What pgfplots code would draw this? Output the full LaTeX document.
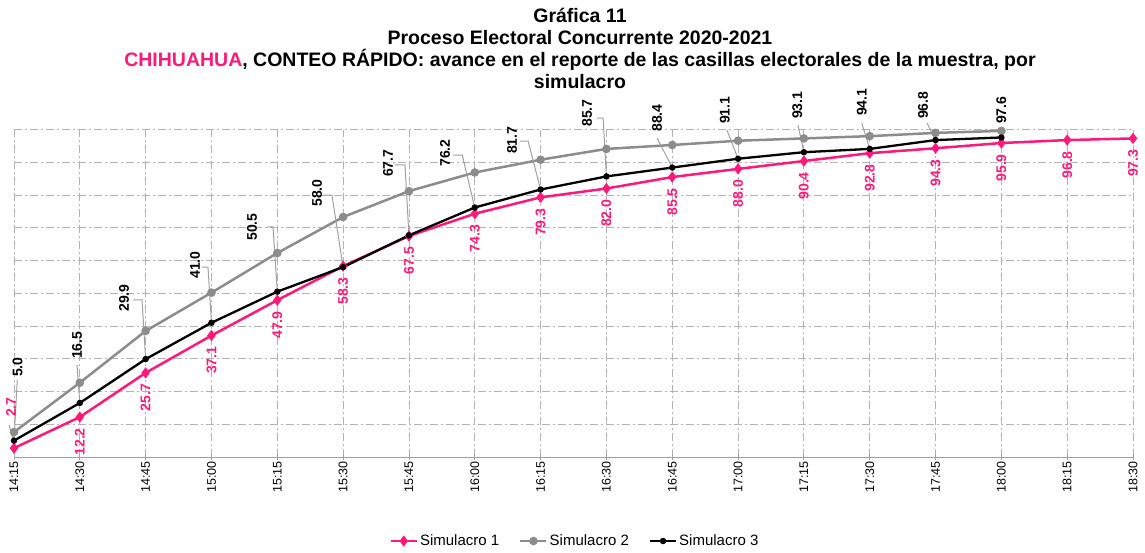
\documentclass[border=0pt]{standalone}
\usepackage{pgfplots}
\pgfplotsset{compat=1.18}
\usepackage{pgfplotstable}
\usepackage{fontspec}
\setmainfont{Liberation Sans}
\definecolor{simA}{RGB}{255,25,120}
\definecolor{simB}{RGB}{140,140,140}
\definecolor{gridc}{RGB}{178,178,178}
\definecolor{leadc}{RGB}{160,160,160}

\pgfplotstableread{
x y
0 2.7
1 12.2
2 25.7
3 37.1
4 47.9
5 58.3
6 67.5
7 74.3
8 79.3
9 82.0
10 85.5
11 88.0
12 90.4
13 92.8
14 94.3
15 95.9
16 96.8
17 97.3
}\simAtab

\pgfplotstableread{
x y
0 7.6
1 22.7
2 38.5
3 50.2
4 62.3
5 73.3
6 81.2
7 86.9
8 90.8
9 94.1
10 95.3
11 96.6
12 97.3
13 98.0
14 99.0
15 99.6
}\simBtab

\pgfplotstableread{
x y lx ly
0 5.0 0.053 24.1
1 16.5 0.957 29.6
2 29.9 1.671 44.0
3 41.0 2.750 54.1
4 50.5 3.616 65.7
5 58.0 4.603 76.1
6 67.7 5.682 85.2
7 76.2 6.548 88.3
8 81.7 7.566 92.2
9 85.7 8.705 100.5
10 88.4 9.769 99.0
11 91.1 10.80 101.4
12 93.1 11.90 102.9
13 94.1 12.88 103.8
14 96.8 13.81 102.9
15 97.6 15.00 101.4
}\simCtab

\begin{document}
\begin{tikzpicture}
\useasboundingbox (-14pt,-95pt) rectangle (1131pt,457pt);
\node[align=center, font=\fontsize{19.5}{21.7}\selectfont\bfseries] at (566pt,408.6pt)
 {Gráfica 11\\Proceso Electoral Concurrente 2020-2021\\\textcolor{simA}{CHIHUAHUA}, CONTEO RÁPIDO: avance en el reporte de las casillas electorales de la muestra, por\\simulacro};
\begin{axis}[
  at={(0pt,0pt)}, anchor=south west,
  scale only axis, width=1119pt, height=327.4pt,
  xmin=0, xmax=17, ymin=0, ymax=100,
  clip=false,
  axis x line*=bottom, axis y line*=left,
  x axis line style={-, draw=leadc, line width=1pt},
  y axis line style={draw=none},
  grid=major,
  grid style={gridc, line width=0.8pt, dash pattern=on 8pt off 3pt on 2pt off 3pt},
  xtick={0,...,17},
  xticklabels={14:15,14:30,14:45,15:00,15:15,15:30,15:45,16:00,16:15,16:30,16:45,17:00,17:15,17:30,17:45,18:00,18:15,18:30},
  xticklabel style={rotate=90, anchor=east, font=\fontsize{12.5}{14}\selectfont, inner sep=1pt},
  x tick style={draw=leadc, line width=0.8pt},
  major tick length=6pt, tick align=center,
  ytick={10,20,...,100}, yticklabels={}, y tick style={draw=none},
  /pgf/number format/.cd, fixed, precision=1, fixed zerofill, assume math mode=true,
  /pgfplots/.cd,
  legend columns=3,
  legend style={at={(0.5013,-0.2566)}, anchor=center, draw=none, fill=none,
    font=\fontsize{15}{17}\selectfont,
    /tikz/every even column/.append style={column sep=18pt}},
  legend image code/.code={\draw[mark repeat=2, mark phase=2, #1] plot coordinates {(0pt,0pt) (13pt,0pt) (26pt,0pt)};},
]
\addplot[simA, line width=2.5pt, mark=diamond*, mark size=3.6pt, mark options={solid}] table[x=x,y=y]{\simAtab};
\addlegendentry{Simulacro 1}
\addplot[simB, line width=2.5pt, mark=*, mark size=3.0pt] table[x=x,y=y]{\simBtab};
\addlegendentry{Simulacro 2}
\addplot[black, line width=2.3pt, mark=*, mark size=2.0pt] table[x=x,y=y]{\simCtab};
\addlegendentry{Simulacro 3}

% leader lines
\addplot[leadc, line width=1pt, mark=none, forget plot, unbounded coords=jump] coordinates {
 (0.05,23.5) (0,5.0) (nan,nan)
 (0.957,28.1) (1,16.5) (nan,nan)
 (1.81,48.0) (1.945,48.0) (2,29.9) (nan,nan)
 (2.856,58.0) (2.947,58.0) (3,41.0) (nan,nan)
 (3.844,70.3) (3.935,70.3) (4,50.5) (nan,nan)
 (4.695,80.0) (4.83,80.0) (5,58.0) (nan,nan)
 (5.789,89.2) (5.94,89.2) (6,67.7) (nan,nan)
 (6.67,92.2) (6.81,92.2) (7,76.2) (nan,nan)
 (7.69,96.5) (7.81,96.5) (8,81.7) (nan,nan)
 (8.86,103.5) (8.95,103.5) (9,85.7) (nan,nan)
 (9.77,97.4) (10,88.4) (nan,nan)
 (10.83,99.9) (11,91.1) (nan,nan)
 (11.91,101.4) (12,93.1) (nan,nan)
 (12.88,102.0) (13,94.1) (nan,nan)
 (13.87,102.0) (14,96.8) (nan,nan)
 (-0.076,9.8) (-0.01,5.2)
};

% Simulacro 1 labels
\addplot[draw=none, mark=none, forget plot, skip coords between index={0}{1},
  point meta=y, nodes near coords,
  nodes near coords style={simA, font=\fontsize{14}{15}\selectfont\bfseries, rotate=90, anchor=east, inner xsep=11pt, inner ysep=0pt}]
  table[x=x,y=y]{\simAtab};
\addplot[draw=none, mark=none, forget plot, point meta=explicit, nodes near coords,
  nodes near coords style={simA, font=\fontsize{14}{15}\selectfont\bfseries, rotate=90, anchor=west, inner xsep=1pt, inner ysep=0pt}]
  coordinates {(-0.046,11.9) [2.7]};

% Simulacro 3 labels
\addplot[draw=none, mark=none, forget plot, point meta=explicit, nodes near coords,
  nodes near coords style={black, font=\fontsize{14}{15}\selectfont\bfseries, rotate=90, anchor=west, inner xsep=1pt, inner ysep=0pt}]
  table[x=lx,y=ly,meta=y]{\simCtab};
\end{axis}
\end{tikzpicture}
\end{document}
